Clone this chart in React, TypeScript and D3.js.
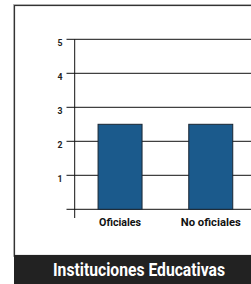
import React from "react";
import * as d3 from "d3";

const categories = ["Oficiales", "No oficiales"];
const values = [2.5, 2.5];
const yTicks = [1, 2, 3, 4, 5];
const title = "Instituciones Educativas";

const W = 251;
const H = 284;
const FONT = "Roboto, 'Liberation Sans', sans-serif";
const catWidths: Record<string, number> = { "Oficiales": 42, "No oficiales": 60 };
const SX = 0.8;

export default function App() {
  const axisX = 74.7;
  const x = d3
    .scaleBand<string>()
    .domain(categories)
    .range([axisX, axisX + 181.4])
    .paddingInner(0.515)
    .paddingOuter(0.2575);
  const y = d3.scaleLinear().domain([0, 5]).range([209.3, 39.3]);

  return (
    <svg
      width={W}
      height={H}
      style={{ position: "absolute", left: 0, top: 0, display: "block" }}
    >
      <rect x={0} y={0} width={W} height={H} fill="#fff" />
      {/* frame */}
      <rect x={13.5} y={4.5} width={W} height={252} fill="none" stroke="#bbb" strokeWidth={1} />
      <rect x={14.5} y={5.5} width={W} height={250} fill="none" stroke="#333" strokeWidth={1.2} />
      {/* grid */}
      {yTicks.map((t) => (
        <line key={t} x1={66.5} x2={W} y1={y(t)} y2={y(t)} stroke="#111" strokeWidth={1} />
      ))}
      <line x1={66.5} x2={W} y1={y(0)} y2={y(0)} stroke="#111" strokeWidth={1} />
      <line x1={axisX} x2={axisX} y1={y(5)} y2={218} stroke="#111" strokeWidth={1} />
      {yTicks.map((t) => (
        <text
          key={t}
          x={62.5}
          y={y(t) + 6.7}
          textAnchor="end"
          fontFamily={FONT}
          fontWeight="bold"
          fontSize={9.5}
          textLength={5}
          lengthAdjust="spacingAndGlyphs"
          fill="#222"
        >
          {t}
        </text>
      ))}
      {/* bars */}
      {categories.map((c, i) => (
        <rect
          key={c}
          x={x(c)!}
          y={y(values[i])}
          width={x.bandwidth()}
          height={y(0) - y(values[i])}
          fill="#1b5a8c"
          stroke="#1a2633"
          strokeWidth={1}
        />
      ))}
      {categories.map((c) => (
        <g key={c} transform={`translate(${x(c)! + x.bandwidth() / 2},226) scale(${SX},1)`}>
          <text
            x={0}
            y={0}
            textAnchor="middle"
            fontFamily={FONT}
            fontWeight="bold"
            fontSize={11.7}
            textLength={catWidths[c] / SX}
            lengthAdjust="spacingAndGlyphs"
            fill="#111"
          >
            {c}
          </text>
        </g>
      ))}
      {/* title band */}
      <rect x={14} y={255} width={W - 14} height={H - 255} fill="#222" />
      <g transform={`translate(139,275.5) scale(${SX},1)`}>
        <text
          x={0}
          y={0}
          textAnchor="middle"
          fontFamily={FONT}
          fontWeight="bold"
          fontSize={18.5}
          textLength={172 / SX}
          lengthAdjust="spacingAndGlyphs"
          fill="#fff"
        >
          {title}
        </text>
      </g>
    </svg>
  );
}
